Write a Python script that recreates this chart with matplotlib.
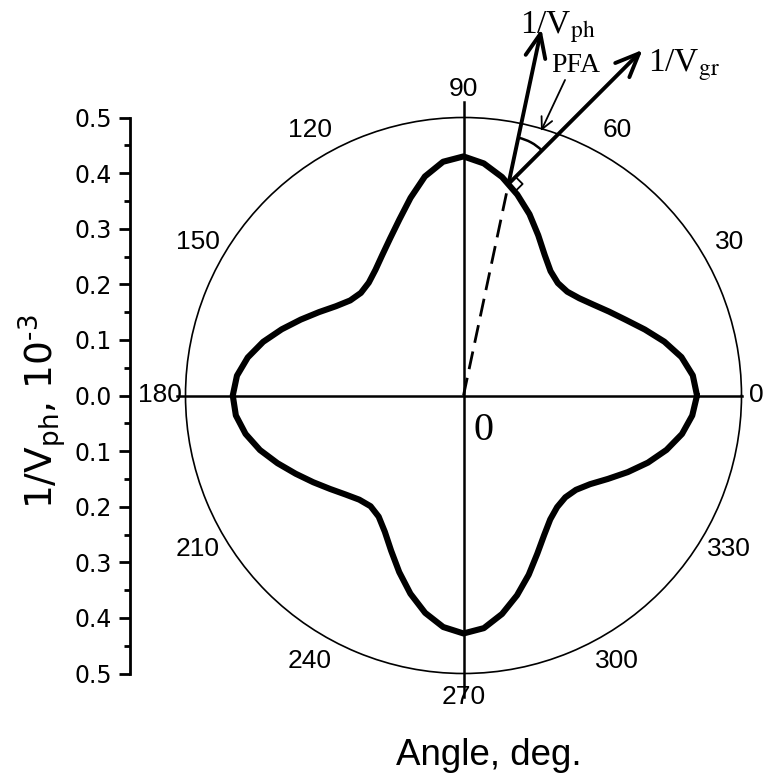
import numpy as np
import matplotlib
matplotlib.use('Agg')
import matplotlib.pyplot as plt
from matplotlib.patches import Arc
from matplotlib.ticker import MultipleLocator

# ---------------- data ----------------
angles_deg = list(range(0, 361, 5))
slowness = [
    # 0 .. 90
    0.420, 0.414, 0.398, 0.374, 0.347, 0.322, 0.302, 0.285, 0.272, 0.264,
    0.264, 0.273, 0.292, 0.318, 0.347, 0.374, 0.399, 0.419, 0.430,
    # 95 .. 180
    0.422, 0.400, 0.368, 0.337, 0.312, 0.292, 0.276, 0.265, 0.261, 0.266,
    0.280, 0.300, 0.323, 0.348, 0.373, 0.394, 0.409, 0.415,
    # 185 .. 270
    0.411, 0.398, 0.379, 0.356, 0.333, 0.312, 0.293, 0.277, 0.265, 0.260,
    0.266, 0.283, 0.308, 0.338, 0.369, 0.397, 0.418, 0.428,
    # 275 .. 360
    0.420, 0.399, 0.372, 0.343, 0.314, 0.290, 0.272, 0.262, 0.259, 0.264,
    0.278, 0.300, 0.326, 0.353, 0.378, 0.399, 0.413, 0.420,
]
angle_ticks = [0, 30, 60, 90, 120, 150, 180, 210, 240, 270, 300, 330]
angle_tick_labels = ['0', '30', '60', '90', '120', '150', '180', '210',
                     '240', '270', '300', '330']
minor_angle_ticks = [15, 45, 75, 105, 135, 165, 195, 225, 255, 285, 315, 345]
radial_ticks = [-0.5, -0.4, -0.3, -0.2, -0.1, 0.0, 0.1, 0.2, 0.3, 0.4, 0.5]
radial_tick_labels = ['0.5', '0.4', '0.3', '0.2', '0.1', '0.0',
                      '0.1', '0.2', '0.3', '0.4', '0.5']
phase_angle = 78.0       # direction of 1/Vph (deg)
group_angle = 45.0       # direction of 1/Vgr (deg)
ph_tip_r = 0.674         # length of 1/Vph arrow (radial units)
gr_len = 0.341           # length of 1/Vgr arrow

# ---------------- layout ----------------
W, H = 764, 776
cx, cy, R = 463.5, 395.5, 278.0
rect = [(cx - R) / W, 1 - (cy + R) / H, 2 * R / W, 2 * R / H]

fig = plt.figure(figsize=(W / 100, H / 100), dpi=100)

# polar axes with the slowness curve
ax = fig.add_axes(rect, projection='polar')
ax.set_ylim(0, 0.5)
ax.plot(np.deg2rad(angles_deg), slowness, color='k', lw=4.4,
        solid_joinstyle='round', solid_capstyle='round', zorder=3)
ax.set_yticks([])
ax.set_xticks(np.deg2rad(angle_ticks))
ax.set_xticklabels([])
ax.set_xticks(np.deg2rad(minor_angle_ticks), minor=True)
ax.grid(False)
ax.tick_params(axis='x', which='major', direction='in', length=6, width=1.1)
ax.tick_params(axis='x', which='minor', direction='in', length=4, width=1.1)
ax.spines['polar'].set_linewidth(1.2)

label_r = {0: 0.527, 180: 0.546, 270: 0.543}
for a, lab in zip(angle_ticks, angle_tick_labels):
    ax.text(np.deg2rad(a), label_r.get(a, 0.552), lab, ha='center', va='center',
            fontsize=19, family='Liberation Sans', clip_on=False)

# cartesian overlay for annotations
ov = fig.add_axes(rect)
ov.set_xlim(-0.5, 0.5)
ov.set_ylim(-0.5, 0.5)
ov.axis('off')
ov.patch.set_visible(False)

ov.plot([-0.515, 0.5], [0, 0], color='k', lw=1.8, clip_on=False)
ov.plot([0, 0], [-0.542, 0.528], color='k', lw=1.8, clip_on=False)

rp = np.interp(phase_angle, angles_deg, slowness)
up = np.array([np.cos(np.deg2rad(phase_angle)), np.sin(np.deg2rad(phase_angle))])
ug = np.array([np.cos(np.deg2rad(group_angle)), np.sin(np.deg2rad(group_angle))])
ut = np.array([np.cos(np.deg2rad(group_angle - 90)), np.sin(np.deg2rad(group_angle - 90))])
P = rp * up

ov.plot([0, P[0]], [0, P[1]], color='k', lw=2.0, ls=(0, (6.5, 3.2)))

ph_tip = ph_tip_r * up
gr_tip = P + gr_len * ug
for tip in (ph_tip, gr_tip):
    ov.annotate('', xy=tip, xytext=P, annotation_clip=False,
                arrowprops=dict(arrowstyle='->,head_length=0.85,head_width=0.36',
                                lw=2.8, color='k', shrinkA=0, shrinkB=0,
                                mutation_scale=20))

a = 0.018
sq = np.array([P + a * ug, P + a * (ug + ut), P + a * ut])
ov.plot(sq[:, 0], sq[:, 1], color='k', lw=1.3, clip_on=False)

ov.add_patch(Arc(P, 0.17, 0.17, theta1=group_angle, theta2=phase_angle,
                 lw=1.8, color='k', clip_on=False))

ov.annotate('', xy=(0.1394, 0.4757), xytext=(0.1826, 0.5675), annotation_clip=False,
            arrowprops=dict(arrowstyle='->,head_length=0.6,head_width=0.3',
                            lw=1.3, color='k', shrinkA=0, shrinkB=0,
                            mutation_scale=14))

ov.text(0.1016, 0.6514, r'1/V$_{\mathrm{ph}}$', fontsize=24, family='Liberation Serif',
        math_fontfamily='stix', ha='left', va='baseline', clip_on=False)
ov.text(0.3324, 0.5824, r'1/V$_{\mathrm{gr}}$', fontsize=24, family='Liberation Serif',
        math_fontfamily='stix', ha='left', va='baseline', clip_on=False)
ov.text(0.1586, 0.5824, 'PFA', fontsize=20, family='Liberation Serif',
        ha='left', va='baseline', clip_on=False)
ov.text(0.0351, -0.080, '0', fontsize=29, family='Liberation Serif',
        ha='center', va='baseline')

# left radial scale
axl = fig.add_axes([130 / W, rect[1], 0.0005, rect[3]])
axl.set_ylim(-0.5, 0.5)
for s in ['top', 'right', 'bottom']:
    axl.spines[s].set_visible(False)
axl.spines['left'].set_linewidth(2.0)
axl.patch.set_visible(False)
axl.set_xticks([])
axl.set_yticks(radial_ticks)
axl.set_yticklabels(radial_tick_labels, family='DejaVu Sans')
axl.yaxis.set_minor_locator(MultipleLocator(0.05))
axl.tick_params(axis='y', which='major', direction='out', length=8, width=2.0,
                labelsize=17, pad=5)
axl.tick_params(axis='y', which='minor', direction='out', length=4.5, width=2.0)

fig.text(42 / W, 1 - 412 / H, r'1/V$_{\mathrm{ph}}$, 10$^{\text{-}3}$', rotation=90,
         ha='center', va='center', fontsize=27, family='DejaVu Sans',
         math_fontfamily='dejavusans')
fig.text(488.5 / W, 1 - 765 / H, 'Angle, deg.', ha='center', va='baseline',
         fontsize=26.5, family='Liberation Sans')

fig.savefig('out.png', dpi=100)
